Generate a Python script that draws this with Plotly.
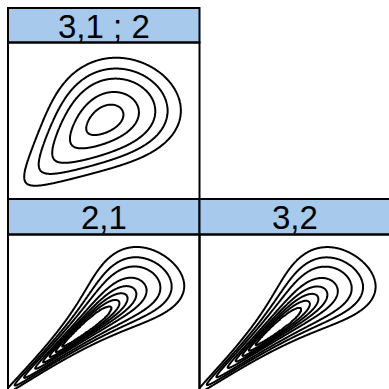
import math
import numpy as np
import plotly.graph_objects as go

# Pair-copula panels (Clayton family, normal margins): strip label and parameter
pair_labels = ["3,1 ; 2", "2,1", "3,2"]
clayton_theta = [0.7, 3.8, 3.6]
contour_levels = [0.01, 0.025, 0.05, 0.1, 0.15, 0.2, 0.25, 0.3]
xy_limits = [-3.0, 3.0]

W = H = 389
STRIP = "#a6c9ec"

# standard-normal scale grid
grid = np.linspace(xy_limits[0], xy_limits[1], 301)
X, Y = np.meshgrid(grid, grid)
erf = np.vectorize(math.erf)


def norm_cdf(v):
    return 0.5 * (1.0 + erf(v / math.sqrt(2.0)))


def norm_pdf(v):
    return np.exp(-0.5 * v * v) / math.sqrt(2.0 * math.pi)


def clayton_normal_density(theta):
    u = norm_cdf(X)
    v = norm_cdf(Y)
    c = (1.0 + theta) * (u * v) ** (-1.0 - theta) * (u ** -theta + v ** -theta - 1.0) ** (-1.0 / theta - 2.0)
    return c * norm_pdf(X) * norm_pdf(Y)


# map the uneven level set to integer steps so plotly can draw them evenly
lev_x = [0.0] + contour_levels + [1e9]
lev_y = list(range(len(contour_levels) + 2))


def px(x):
    return x / W


def py(y):
    return 1.0 - y / H


# panel geometry (pixels): body boxes, strip boxes
L, M, R = 8.0, 199.5, 391.0
T0, S0, B0 = 8.0, 42.5, 199.0
S1, B1 = 234.5, 391.0

boxes = [
    dict(x0=L, x1=M, y0=S0, y1=B0, st=T0),
    dict(x0=L, x1=M, y0=S1, y1=B1, st=B0),
    dict(x0=M, x1=R, y0=S1, y1=B1, st=B0),
]

fig = go.Figure()
layout = dict(
    width=W, height=H, margin=dict(l=0, r=0, t=0, b=0),
    paper_bgcolor="white", plot_bgcolor="white", showlegend=False,
    shapes=[], annotations=[],
)

for i, p in enumerate(boxes, start=1):
    span = xy_limits[1] - xy_limits[0]
    # visible part of the panel, with the data range trimmed accordingly
    vx1 = min(p["x1"], W)
    vy1 = min(p["y1"], H)
    xr = [xy_limits[0], xy_limits[0] + span * (vx1 - p["x0"]) / (p["x1"] - p["x0"])]
    yr = [xy_limits[1] - span * (vy1 - p["y0"]) / (p["y1"] - p["y0"]), xy_limits[1]]
    sfx = "" if i == 1 else str(i)
    ax = dict(showgrid=False, zeroline=False, showticklabels=False, ticks="",
              showline=False, fixedrange=True)
    layout["xaxis" + sfx] = dict(ax, domain=[px(p["x0"]), px(vx1)], range=xr, anchor="y" + sfx)
    layout["yaxis" + sfx] = dict(ax, domain=[py(vy1), py(p["y0"])], range=yr, anchor="x" + sfx)

    z = clayton_normal_density(clayton_theta[i - 1])
    zt = np.interp(z, lev_x, lev_y)
    fig.add_trace(go.Contour(
        x=grid, y=grid, z=zt,
        contours=dict(coloring="lines", start=1, end=len(contour_levels), size=1, showlabels=False),
        line=dict(width=2, color="black"),
        colorscale=[[0, "black"], [1, "black"]], showscale=False, hoverinfo="skip",
        xaxis="x" + sfx, yaxis="y" + sfx,
    ))

    # strip
    layout["shapes"].append(dict(type="rect", xref="paper", yref="paper",
                                 x0=px(p["x0"]), x1=px(p["x1"]), y0=py(p["y0"]), y1=py(p["st"]),
                                 fillcolor=STRIP, line=dict(color="black", width=2), layer="above"))
    layout["annotations"].append(dict(xref="paper", yref="paper",
                                      x=px((p["x0"] + p["x1"]) / 2), y=py((p["st"] + p["y0"]) / 2 + 1),
                                      text=pair_labels[i - 1], showarrow=False,
                                      xanchor="center", yanchor="middle",
                                      font=dict(family="Liberation Sans, Arial", size=33, color="black")))
    # panel frame
    layout["shapes"].append(dict(type="rect", xref="paper", yref="paper",
                                 x0=px(p["x0"]), x1=px(p["x1"]), y0=py(p["y1"]), y1=py(p["y0"]),
                                 line=dict(color="black", width=2), layer="above"))

fig.update_layout(**layout)
fig.write_html("out.html")
